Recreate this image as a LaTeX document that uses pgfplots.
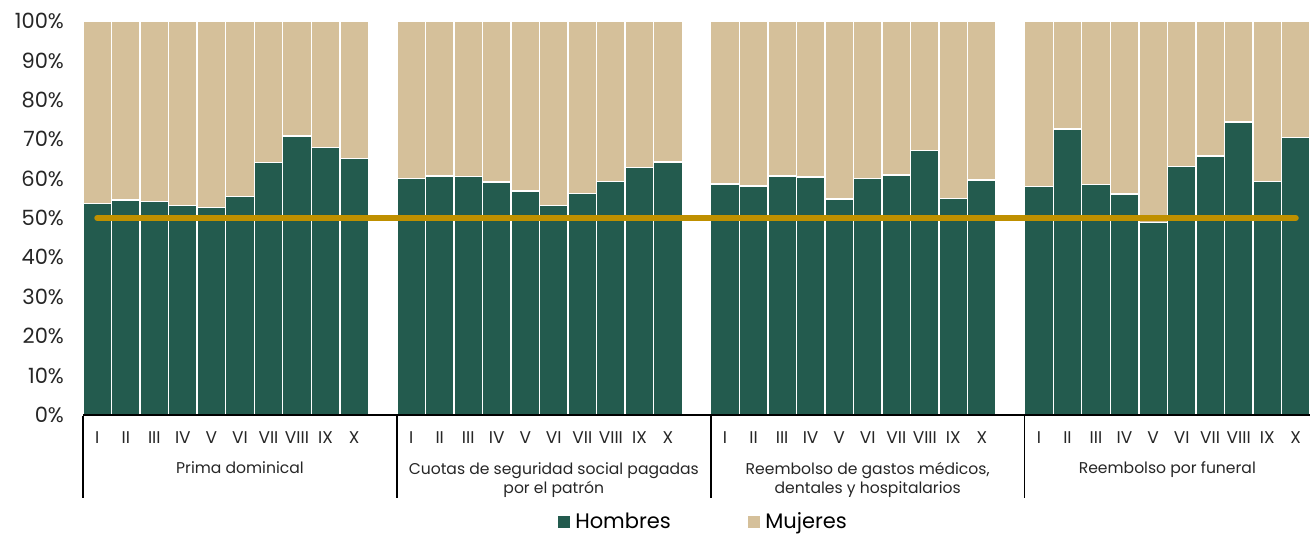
\documentclass[border=0pt]{standalone}
\usepackage{pgfplots}
\pgfplotsset{compat=1.18}
\usepackage{pgfplotstable}
\usepackage{fontspec}
\setmainfont{Poppins}
\definecolor{hgreen}{RGB}{35,91,78}
\definecolor{mbeige}{RGB}{213,192,154}
\definecolor{gold}{RGB}{191,144,0}
\definecolor{txt}{RGB}{38,38,38}
\tikzset{glabel/.style={anchor=base, align=center, font=\fontsize{7.8}{10}\selectfont, text=txt}}
\pgfplotstableread{
x h m
0 53.7 46.3
1 54.6 45.4
2 54.2 45.8
3 53.1 46.9
4 52.6 47.4
5 55.4 44.6
6 64.1 35.9
7 70.8 29.2
8 67.9 32.1
9 65.1 34.9
11 60.0 40.0
12 60.7 39.3
13 60.5 39.5
14 59.1 40.9
15 56.9 43.1
16 53.1 46.9
17 56.2 43.8
18 59.3 40.7
19 62.8 37.2
20 64.2 35.8
22 58.6 41.4
23 58.1 41.9
24 60.7 39.3
25 60.4 39.6
26 54.8 45.2
27 60.1 39.9
28 60.9 39.1
29 67.2 32.8
30 54.9 45.1
31 59.6 40.4
33 58.0 42.0
34 72.6 27.4
35 58.5 41.5
36 56.1 43.9
37 48.8 51.2
38 63.1 36.9
39 65.7 34.3
40 74.4 25.6
41 59.3 40.7
42 70.5 29.5
}\datatable
\pgfplotstableread{
x y
0 50
42 50
}\linetable
\begin{document}
\begin{tikzpicture}
\pgfplotsset{
  common/.style={
    width=613.5pt, height=197pt, scale only axis,
    xmin=-0.5, xmax=42.5, ymin=0, ymax=100,
  },
}
\begin{axis}[common, name=main,
  ybar stacked, bar width=1,
  axis on top,
  axis x line*=bottom, axis y line*=left,
  x axis line style={-, black, line width=0.8pt},
  y axis line style={draw=none},
  major tick length=0pt,
  ytick={0,10,...,100},
  yticklabel={\pgfmathprintnumber{\tick}\%},
  /pgf/number format/assume math mode=true,
  yticklabel style={font=\fontsize{10.5}{12}\selectfont, text=txt, xshift=-6pt},
  xtick={0,1,2,3,4,5,6,7,8,9,11,12,13,14,15,16,17,18,19,20,22,23,24,25,26,27,28,29,30,31,33,34,35,36,37,38,39,40,41,42},
  xticklabels={I,II,III,IV,V,VI,VII,VIII,IX,X,I,II,III,IV,V,VI,VII,VIII,IX,X,I,II,III,IV,V,VI,VII,VIII,IX,X,I,II,III,IV,V,VI,VII,VIII,IX,X},
  xticklabel style={font=\fontsize{8.5}{10}\selectfont, text=txt, yshift=-5pt},
  legend style={at={(0.506,-0.2716)}, anchor=center, draw=none, fill=none,
    legend columns=2, font=\fontsize{10.5}{12}\selectfont,
    /tikz/every even column/.append style={column sep=36pt},
    inner sep=0pt},
  legend image code/.code={\fill[#1] (0pt,-3.3pt) rectangle (6.5pt,3.3pt);},
  clip=false,
]
\addplot[fill=hgreen, draw=white, line width=0.7pt] table[x=x,y=h]{\datatable};
\addlegendentry{Hombres}
\addplot[fill=mbeige, draw=white, line width=0.7pt] table[x=x,y=m]{\datatable};
\addlegendentry{Mujeres}
\pgfplotsinvokeforeach{-0.5,10.5,21.5,32.5}{
  \draw[black, line width=0.8pt] (axis cs:#1,0) -- ([yshift=-41.5pt]axis cs:#1,0);
}
\node[glabel] at ([yshift=-29.5pt]axis cs:5,0) {Prima dominical};
\node[glabel] at ([yshift=-39.5pt]axis cs:16,0) {Cuotas de seguridad social pagadas\\por el patrón};
\node[glabel] at ([yshift=-39.5pt]axis cs:27,0) {Reembolso de gastos médicos,\\dentales y hospitalarios};
\node[glabel] at ([yshift=-29.5pt]axis cs:37.5,0) {Reembolso por funeral};
\end{axis}
\begin{axis}[common, at={(main.south west)}, anchor=south west, hide axis]
\addplot[gold, line width=3pt, line cap=round, mark=none] table[x=x,y=y]{\linetable};
\end{axis}
\pgfresetboundingbox
\path[use as bounding box] ([xshift=-41.5pt,yshift=-59.5pt]main.south west) rectangle ([yshift=10.5pt]main.north east);
\end{tikzpicture}
\end{document}
